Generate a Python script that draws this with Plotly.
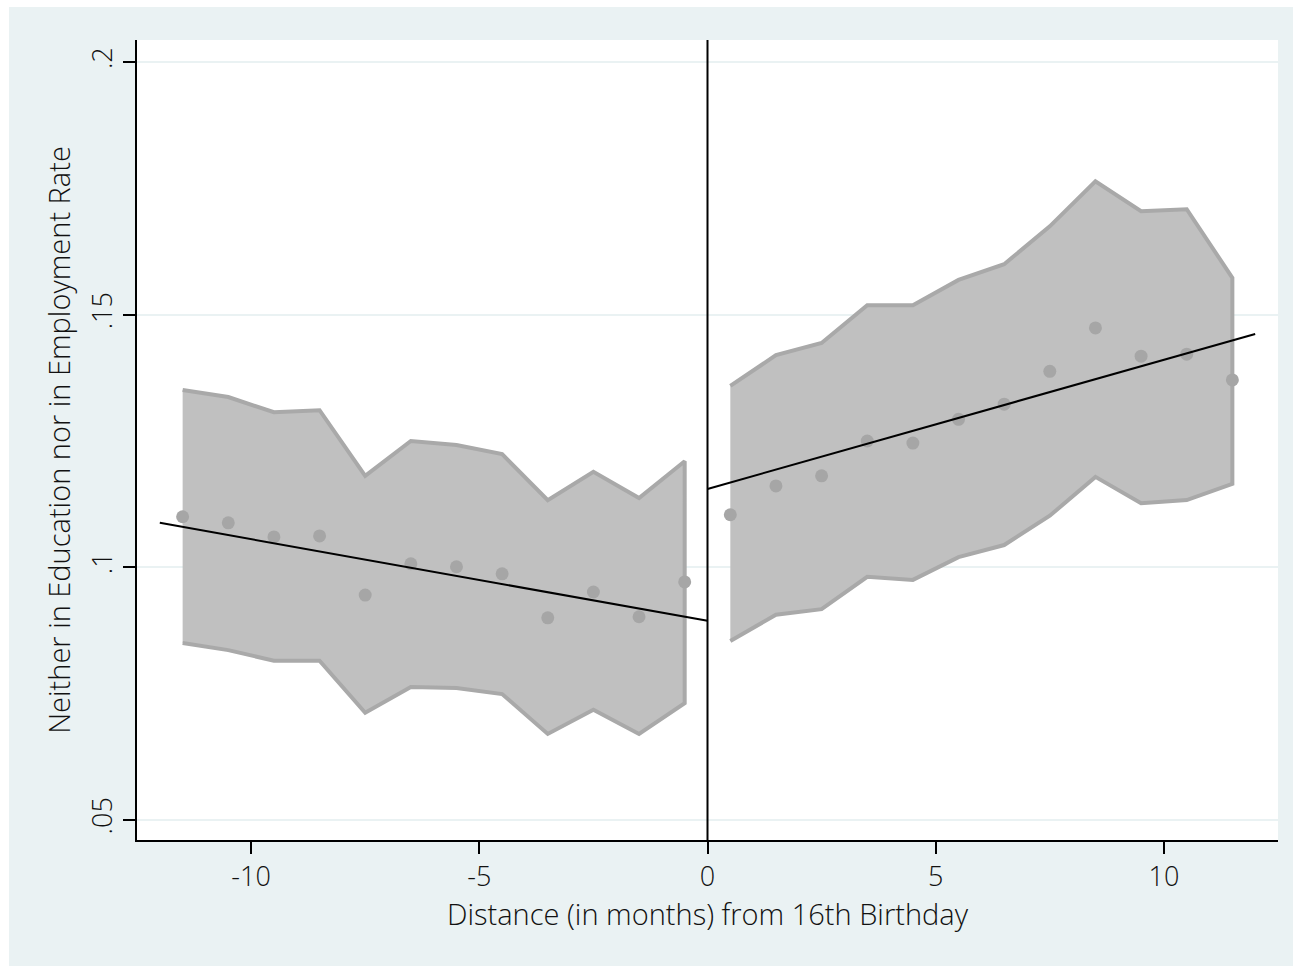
import plotly.graph_objects as go

# Data
x_left = [-11.5, -10.5, -9.5, -8.5, -7.5, -6.5, -5.5, -4.5, -3.5, -2.5, -1.5, -0.5]
y_left = [0.1100, 0.1088, 0.1060, 0.1062, 0.0945, 0.1007, 0.1001, 0.0987, 0.0900, 0.0951, 0.0902, 0.0971]
hi_left = [0.1351, 0.1337, 0.1307, 0.1311, 0.1181, 0.1250, 0.1242, 0.1224, 0.1133, 0.1189, 0.1137, 0.1210]
lo_left = [0.0850, 0.0836, 0.0815, 0.0815, 0.0712, 0.0763, 0.0761, 0.0749, 0.0670, 0.0718, 0.0670, 0.0731]

x_right = [0.5, 1.5, 2.5, 3.5, 4.5, 5.5, 6.5, 7.5, 8.5, 9.5, 10.5, 11.5]
y_right = [0.1104, 0.1161, 0.1181, 0.1250, 0.1246, 0.1293, 0.1323, 0.1388, 0.1474, 0.1418, 0.1422, 0.1371]
hi_right = [0.1359, 0.1420, 0.1444, 0.1519, 0.1519, 0.1569, 0.1600, 0.1675, 0.1764, 0.1705, 0.1709, 0.1573]
lo_right = [0.0854, 0.0906, 0.0917, 0.0981, 0.0975, 0.1020, 0.1044, 0.1102, 0.1179, 0.1127, 0.1133, 0.1165]

fit_left_x = [-12, 0]
fit_left_y = [0.1088, 0.0894]
fit_right_x = [0, 12]
fit_right_y = [0.1155, 0.1462]

x_ticks = [-10, -5, 0, 5, 10]
x_tick_labels = ["-10", "-5", "0", "5", "10"]
y_ticks = [0.05, 0.10, 0.15, 0.20]
y_tick_labels = [".05", ".1", ".15", ".2"]

BG = "#eaf2f3"
FILL = "#c0c0c0"
EDGE = "#a9a9a9"
DOT = "#a6a6a6"
FONT = dict(family="Open Sans", size=24.5, color="#111111", weight=300)
TICKFONT = dict(family="Open Sans", size=27, color="#111111", weight=300)

# white page border on the left / top, figure placed after it
BL, BT = 9, 7
W, H = 1293 - BL, 966 - BT
ML, MR, MT, MB = 137 - BL, 15, 40 - BT, 126

fig = go.Figure()

for xs, hi, lo in [(x_left, hi_left, lo_left), (x_right, hi_right, lo_right)]:
    fig.add_trace(go.Scatter(
        x=xs + xs[::-1], y=hi + lo[::-1], mode="lines", fill="toself",
        fillcolor=FILL, line=dict(color=EDGE, width=4), hoverinfo="skip",
        showlegend=False))

for xs, ys in [(x_left, y_left), (x_right, y_right)]:
    fig.add_trace(go.Scatter(x=xs, y=ys, mode="markers",
                             marker=dict(color=DOT, size=13), showlegend=False))

for xs, ys in [(fit_left_x, fit_left_y), (fit_right_x, fit_right_y)]:
    fig.add_trace(go.Scatter(x=xs, y=ys, mode="lines",
                             line=dict(color="black", width=2), showlegend=False))

# white plot area over the light page background
fig.add_shape(type="rect", xref="paper", yref="paper",
              x0=0, x1=1, y0=0, y1=1,
              fillcolor="white", line=dict(width=0), layer="below")
# vertical line at 0
fig.add_shape(type="line", xref="x", yref="paper", x0=0, x1=0, y0=0, y1=1,
              line=dict(color="black", width=2))

fig.update_layout(
    width=W, height=H,
    margin=dict(l=ML, r=MR, t=MT, b=MB, pad=0),
    paper_bgcolor=BG, plot_bgcolor="white",
    font=FONT,
    showlegend=False,
    xaxis=dict(range=[-12.5, 12.5], tickvals=x_ticks, ticktext=x_tick_labels,
               ticks="outside", ticklen=12,
               tickwidth=2, tickcolor="black", showgrid=False, zeroline=False,
               showline=True, linecolor="black", linewidth=2,
               title=dict(text="Distance (in months) from 16th Birthday", standoff=2),
               tickfont=TICKFONT),
    yaxis=dict(range=[0.0460, 0.2044], tickvals=y_ticks, ticktext=y_tick_labels,
               ticks="outside", ticklen=12, tickwidth=2, tickcolor="black",
               tickangle=-90, showgrid=True, gridcolor=BG, gridwidth=2,
               zeroline=False, showline=True, linecolor="black", linewidth=2,
               title=dict(text="Neither in Education nor in Employment Rate", standoff=4),
               tickfont=TICKFONT),
)

post = ("document.body.style.margin='0';"
        "var gd=document.getElementById('{plot_id}');"
        "gd.style.borderLeft='%dpx solid white';"
        "gd.style.borderTop='%dpx solid white';" % (BL, BT))
fig.write_html("out.html", post_script=post)
